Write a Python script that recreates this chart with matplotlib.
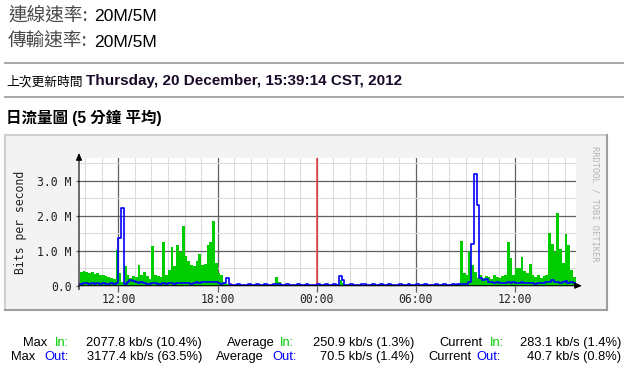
import numpy as np
import pandas as pd
import matplotlib
matplotlib.use('Agg')
import matplotlib.pyplot as plt
import matplotlib.dates as mdates
from matplotlib.patches import Rectangle
from matplotlib.ticker import MultipleLocator

# 10-minute buckets, values in Mbit/s
start = '2012-12-19 09:40'
step = '10min'

traffic_in = [
    0.38, 0.42, 0.40, 0.36, 0.38, 0.33, 0.35, 0.30, 0.30, 0.28, 0.25, 0.22,  # 09:40
    0.20, 1.03, 0.37, 0.10, 0.57, 0.30, 0.22, 0.28, 0.25, 0.60, 0.30, 0.38,  # 11:40
    0.28, 0.20, 1.14, 0.32, 0.28, 0.25, 1.26, 0.30, 0.45, 1.12, 0.57, 1.16,  # 13:40
    0.95, 1.72, 0.85, 0.72, 0.58, 0.55, 0.72, 0.90, 0.60, 0.62, 1.16, 1.26,  # 15:40
    1.86, 0.64, 0.35, 0.30, 0.12, 0.04, 0.02, 0.02, 0.03, 0.02, 0.02, 0.02,  # 17:40
    0.02, 0.03, 0.02, 0.02, 0.02, 0.03, 0.02, 0.02, 0.02, 0.03, 0.02, 0.26,  # 19:40
    0.12, 0.03, 0.02, 0.02, 0.02, 0.02, 0.03, 0.02, 0.02, 0.02, 0.02, 0.02,  # 21:40
    0.02, 0.02, 0.02, 0.03, 0.02, 0.02, 0.02, 0.02, 0.02, 0.02, 0.15, 0.08,  # 23:40
    0.02, 0.02, 0.03, 0.02, 0.02, 0.02, 0.02, 0.03, 0.02, 0.02, 0.02, 0.02,  # 01:40
    0.02, 0.02, 0.02, 0.02, 0.03, 0.02, 0.02, 0.02, 0.02, 0.02, 0.03, 0.02,  # 03:40
    0.02, 0.02, 0.02, 0.03, 0.02, 0.02, 0.02, 0.02, 0.02, 0.03, 0.02, 0.02,  # 05:40
    0.02, 0.02, 0.02, 0.02, 0.03, 0.05, 1.28, 0.35, 0.32, 1.00, 0.60, 0.40,  # 07:40
    0.22, 0.30, 0.22, 0.28, 0.25, 0.20, 0.30, 0.24, 0.22, 0.28, 0.30, 1.25,  # 09:40
    0.80, 0.30, 0.52, 0.50, 0.83, 0.42, 0.35, 0.62, 0.30, 0.25, 0.30, 0.22,  # 11:40
    0.28, 0.30, 1.52, 1.20, 0.95, 2.08, 1.05, 0.65, 1.48, 1.15, 0.45, 0.25,  # 13:40
]

traffic_out = [
    0.06, 0.09, 0.07, 0.06, 0.08, 0.06, 0.07, 0.05, 0.08, 0.06, 0.05, 0.07,
    0.05, 0.09, 1.35, 2.23, 0.05, 0.10, 0.16, 0.14, 0.10, 0.08, 0.12, 0.07,
    0.06, 0.05, 0.07, 0.08, 0.06, 0.05, 0.07, 0.06, 0.08, 0.07, 0.06, 0.08,
    0.09, 0.07, 0.08, 0.07, 0.06, 0.08, 0.11, 0.09, 0.10, 0.11, 0.10, 0.12,
    0.11, 0.10, 0.08, 0.06, 0.08, 0.23, 0.04, 0.03, 0.03, 0.04, 0.03, 0.03,
    0.03, 0.04, 0.03, 0.03, 0.04, 0.03, 0.03, 0.05, 0.03, 0.03, 0.04, 0.05,
    0.04, 0.03, 0.03, 0.04, 0.03, 0.03, 0.03, 0.04, 0.03, 0.03, 0.04, 0.03,
    0.03, 0.03, 0.04, 0.03, 0.03, 0.04, 0.03, 0.03, 0.04, 0.03, 0.29, 0.15,
    0.03, 0.03, 0.04, 0.03, 0.03, 0.03, 0.04, 0.05, 0.03, 0.03, 0.04, 0.03,
    0.03, 0.04, 0.03, 0.03, 0.04, 0.03, 0.03, 0.03, 0.04, 0.03, 0.03, 0.04,
    0.03, 0.03, 0.04, 0.03, 0.03, 0.04, 0.03, 0.03, 0.03, 0.04, 0.03, 0.03,
    0.04, 0.03, 0.03, 0.04, 0.03, 0.04, 0.05, 0.06, 0.05, 0.10, 1.20, 3.18,
    2.30, 0.22, 0.15, 0.18, 0.10, 0.12, 0.08, 0.10, 0.07, 0.09, 0.08, 0.10,
    0.08, 0.10, 0.07, 0.09, 0.10, 0.08, 0.07, 0.09, 0.08, 0.06, 0.07, 0.08,
    0.07, 0.10, 0.12, 0.15, 0.10, 0.12, 0.08, 0.10, 0.14, 0.09, 0.11, 0.07,
]

y_ticks = [0, 1, 2, 3]
y_labels = ['0.0', '1.0 M', '2.0 M', '3.0 M']
x_ticks = ['2012-12-19 12:00', '2012-12-19 18:00', '2012-12-20 00:00',
           '2012-12-20 06:00', '2012-12-20 12:00']
x_labels = ['12:00', '18:00', '00:00', '06:00', '12:00']
midnight = '2012-12-20 00:00'

info_lines = [('連線速率:', '20M/5M'), ('傳輸速率:', '20M/5M')]
updated_label = '上次更新時間'
updated_value = 'Thursday, 20 December, 15:39:14 CST, 2012'
graph_title = '日流量圖 (5 分鐘 平均)'

stat_labels = ['Max', 'Average', 'Current']
stats_in = ['2077.8 kb/s (10.4%)', '250.9 kb/s (1.3%)', '283.1 kb/s (1.4%)']
stats_out = ['3177.4 kb/s (63.5%)', '70.5 kb/s (1.4%)', '40.7 kb/s (0.8%)']

GREEN = '#00cc00'
BLUE = '#0000ff'
MONO = 'DejaVu Sans Mono'
SANS = 'Liberation Sans'
CJK = ['Liberation Sans', 'Noto Sans CJK TC']

W, H = 624, 368
fig = plt.figure(figsize=(W / 100, H / 100), dpi=100)

# page layer in pixel coordinates
page = fig.add_axes([0, 0, 1, 1])
page.set_xlim(0, W)
page.set_ylim(H, 0)
page.axis('off')

for k, (lab, val) in enumerate(info_lines):
    yb = 21 + 26 * k
    page.text(8, yb, lab, family='Noto Sans CJK TC', fontsize=13.4, color='#4a4a4a', va='baseline')
    page.text(94, yb, val, family=SANS, fontsize=12.6, color='black', va='baseline')

for yh in (62.5, 97):
    page.plot([5, W], [yh, yh], color='#a8a8a8', lw=1.4)

page.text(6, 85, updated_label, family='Noto Sans CJK TC', fontsize=9.2, color='black', va='baseline')
page.text(86, 85, updated_value, family=SANS, fontsize=11, fontweight='bold', color='#1a0a2a', va='baseline')
page.text(6, 123, graph_title, family=CJK, fontsize=11.2, fontweight='bold', color='black', va='baseline')

# graph frame
page.add_patch(Rectangle((5, 135), 602, 175, facecolor='#f3f3f3', edgecolor='none'))
page.plot([5, 607], [135, 135], color='#cfcfcf', lw=1.5)
page.plot([5, 5], [135, 310], color='#cfcfcf', lw=1.5)
page.plot([5, 607], [310, 310], color='#9e9e9e', lw=1.5)
page.plot([607, 607], [135, 310], color='#9e9e9e', lw=1.5)

page.text(21, 222, 'Bits per second', rotation=90, ha='center', va='center',
          family=MONO, fontsize=8.3, color='#222222')
page.text(595, 204, 'RRDTOOL / TOBI OETIKER', rotation=-90, ha='center', va='center',
          family=MONO, fontsize=6.3, color='#b4b4b4')

# stats table under the graph
label_x = [(23, 55, 11, 44), (227, 280, 216, 272), (439, 490, 428, 476)]
value_right = [202, 414, 621]
for c in range(3):
    a1, b1, a2, b2 = label_x[c]
    page.text(a1, 346, stat_labels[c], family=SANS, fontsize=9.3, va='baseline')
    page.text(b1, 346, 'In:', family=SANS, fontsize=9.3, color=GREEN, va='baseline')
    page.text(value_right[c], 346, stats_in[c], family=SANS, fontsize=9.3, ha='right', va='baseline')
    page.text(a2, 360, stat_labels[c], family=SANS, fontsize=9.3, va='baseline')
    page.text(b2, 360, 'Out:', family=SANS, fontsize=9.3, color=BLUE, va='baseline')
    page.text(value_right[c], 360, stats_out[c], family=SANS, fontsize=9.3, ha='right', va='baseline')

# graph canvas
x0, x1, ytop, ybot = 79, 576, 158, 285.7
ax = fig.add_axes([x0 / W, 1 - ybot / H, (x1 - x0) / W, (ybot - ytop) / H])
ax.set_facecolor('white')

times = pd.date_range(start, periods=len(traffic_in) + 1, freq=step)
vin = np.append(traffic_in, traffic_in[-1])
vout = np.append(traffic_out, traffic_out[-1])

ax.fill_between(times, vin, step='post', color=GREEN, lw=0, zorder=1)
ax.step(times, vout, where='post', color=BLUE, lw=1.2, zorder=3)

ax.set_xlim(pd.Timestamp('2012-12-19 09:37'), pd.Timestamp('2012-12-20 15:41'))
ax.set_ylim(0, 3.65)

ax.set_xticks(pd.to_datetime(x_ticks))
ax.set_xticklabels(x_labels)
ax.xaxis.set_minor_locator(mdates.HourLocator())
ax.set_yticks(y_ticks)
ax.set_yticklabels(y_labels)
ax.yaxis.set_minor_locator(MultipleLocator(0.5))

ax.grid(which='minor', color='#dcdcdc', lw=0.8)
ax.grid(which='major', color='#606060', lw=0.9)
ax.set_axisbelow(True)
ax.axvline(pd.Timestamp(midnight), color='#f03c3c', lw=1.1, zorder=2)

ax.tick_params(axis='x', which='major', length=4, width=0.9, color='#606060', pad=1.5,
               labelsize=8.3, labelcolor='#222222')
ax.tick_params(axis='y', which='major', length=2.2, width=0.9, color='#606060', pad=3,
               labelsize=8.3, labelcolor='#222222')
ax.tick_params(which='minor', length=0)
for lbl in ax.get_xticklabels() + ax.get_yticklabels():
    lbl.set_family(MONO)
for sp in ax.spines.values():
    sp.set_visible(False)

arrow = dict(arrowstyle='-|>,head_length=4.2,head_width=1.8', mutation_scale=1,
             color='black', lw=0.8, shrinkA=0, shrinkB=0)
ax.annotate('', xy=(0, (ybot - 153) / (ybot - ytop)), xytext=(0, -0.03),
            xycoords='axes fraction', arrowprops=arrow, annotation_clip=False, zorder=5)
ax.annotate('', xy=((582 - x0) / (x1 - x0), 0), xytext=(0, 0),
            xycoords='axes fraction', arrowprops=arrow, annotation_clip=False, zorder=5)

fig.savefig('out.png', dpi=100)
